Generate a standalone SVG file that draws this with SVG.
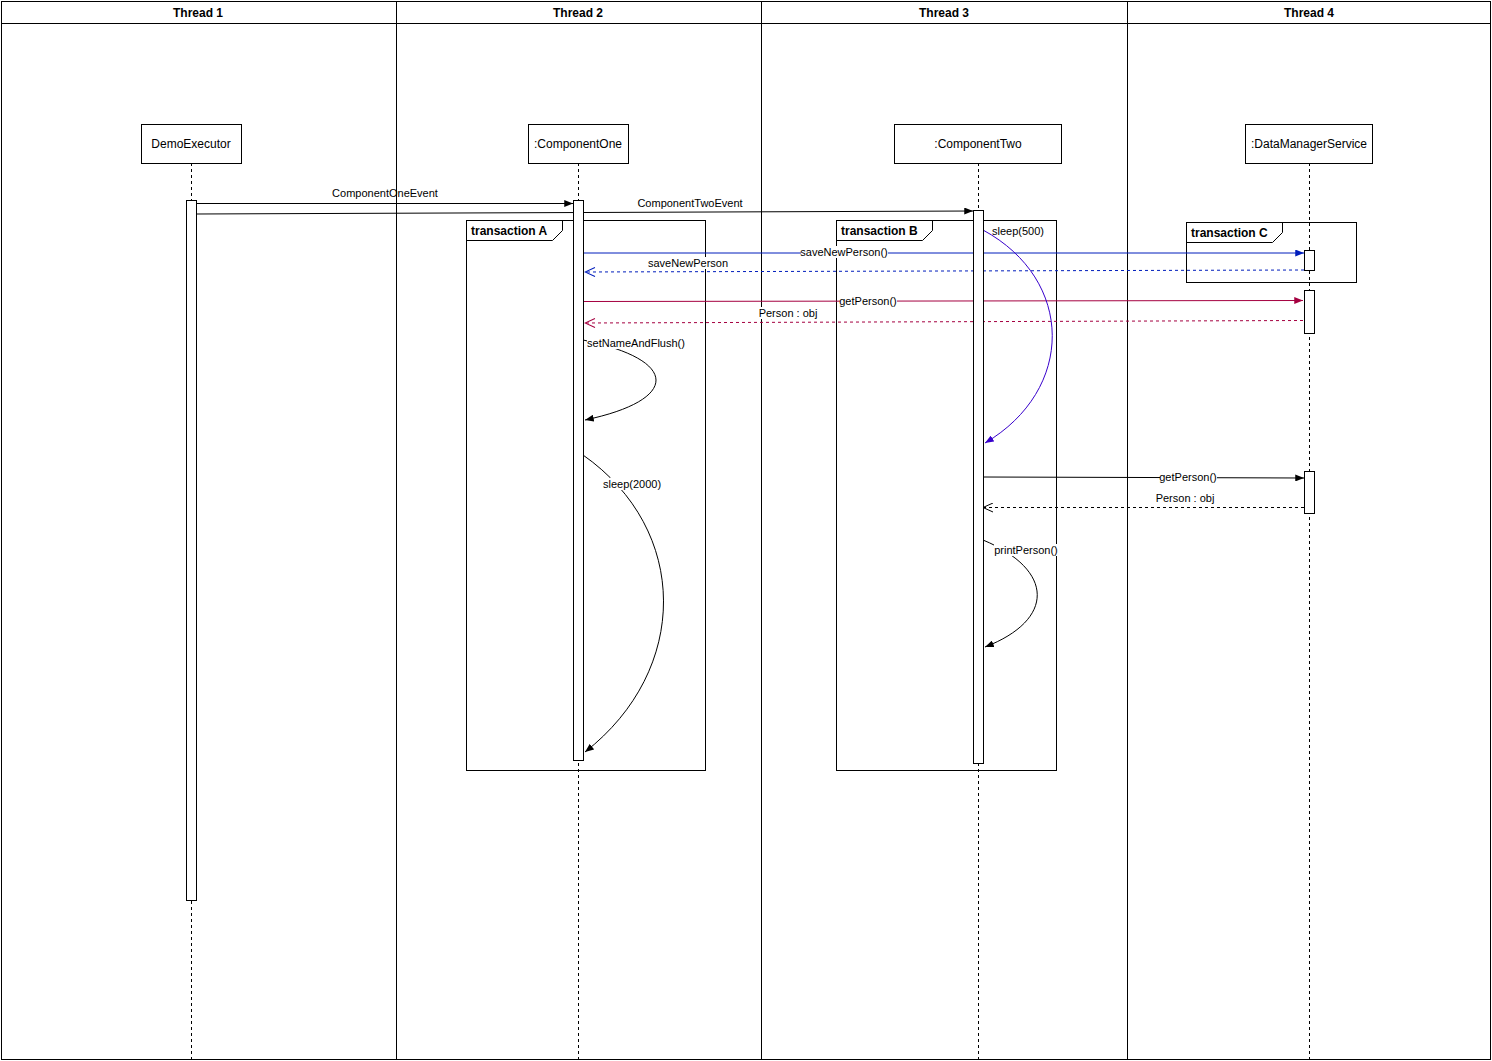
<svg xmlns="http://www.w3.org/2000/svg" width="1492" height="1061" viewBox="0 0 1492 1061">
<style>
text{font-family:"Liberation Sans",Arial,sans-serif;fill:#000}
.hdr{font-size:12px;font-weight:bold;text-anchor:middle}
.nm{font-size:12px;text-anchor:middle}
.lbl{font-size:11px;text-anchor:middle}
.fr{font-size:12px;font-weight:bold}
.ln{stroke:#000;stroke-width:1;fill:none}
.box{fill:#fff;stroke:#000;stroke-width:1}
.life{stroke:#000;stroke-width:1;stroke-dasharray:3 3;fill:none}
.act{fill:#fff;stroke:#000;stroke-width:1}
.frame{fill:none;stroke:#000;stroke-width:1}
.msg{fill:none;stroke-width:1}
.ret{fill:none;stroke-width:1;stroke-dasharray:3 3}
.bg{fill:#fff}
</style>
<defs>
<marker id="fBlack" viewBox="0 0 10 8" refX="10" refY="4" markerWidth="9" markerHeight="7" markerUnits="userSpaceOnUse" orient="auto"><path d="M0,0 L10,4 L0,8 z" fill="#000"/></marker>
<marker id="fBlue" viewBox="0 0 10 8" refX="10" refY="4" markerWidth="9" markerHeight="7" markerUnits="userSpaceOnUse" orient="auto"><path d="M0,0 L10,4 L0,8 z" fill="#001DBC"/></marker>
<marker id="fRed" viewBox="0 0 10 8" refX="10" refY="4" markerWidth="9" markerHeight="7" markerUnits="userSpaceOnUse" orient="auto"><path d="M0,0 L10,4 L0,8 z" fill="#A50040"/></marker>
<marker id="fPurple" viewBox="0 0 10 8" refX="10" refY="4" markerWidth="9" markerHeight="7" markerUnits="userSpaceOnUse" orient="auto"><path d="M0,0 L10,4 L0,8 z" fill="#3700CC"/></marker>
<marker id="oBlack" viewBox="0 0 12 10" refX="11" refY="5" markerWidth="12" markerHeight="10" markerUnits="userSpaceOnUse" orient="auto"><path d="M1,0.5 L11,5 L1,9.5" fill="none" stroke="#000" stroke-width="1"/></marker>
<marker id="oBlue" viewBox="0 0 12 10" refX="11" refY="5" markerWidth="12" markerHeight="10" markerUnits="userSpaceOnUse" orient="auto"><path d="M1,0.5 L11,5 L1,9.5" fill="none" stroke="#001DBC" stroke-width="1"/></marker>
<marker id="oRed" viewBox="0 0 12 10" refX="11" refY="5" markerWidth="12" markerHeight="10" markerUnits="userSpaceOnUse" orient="auto"><path d="M1,0.5 L11,5 L1,9.5" fill="none" stroke="#A50040" stroke-width="1"/></marker>
</defs>
<rect x="0" y="0" width="1492" height="1061" fill="#fff"/>

<g id="pool">
<rect x="1.5" y="1.5" width="1489" height="1058" class="ln"/>
<line x1="1.5" y1="23.5" x2="1490.5" y2="23.5" class="ln"/>
<line x1="396.5" y1="1.5" x2="396.5" y2="1059.5" class="ln"/>
<line x1="761.5" y1="1.5" x2="761.5" y2="1059.5" class="ln" stroke-width="1.5"/>
<line x1="1127.5" y1="1.5" x2="1127.5" y2="1059.5" class="ln"/>
<text class="hdr" x="198" y="17">Thread 1</text>
<text class="hdr" x="578" y="17">Thread 2</text>
<text class="hdr" x="944" y="17">Thread 3</text>
<text class="hdr" x="1309" y="17">Thread 4</text>
</g>

<g id="transactionA">
<rect x="466.5" y="220.5" width="239" height="550" class="frame"/>
<path d="M466.5,240.5 H552.5 L562.5,230.5 V220.5" class="frame"/>
<text class="fr" x="471" y="235">transaction A</text>
</g>
<g id="transactionB">
<rect x="836.5" y="220.5" width="220" height="550" class="frame"/>
<path d="M836.5,240.5 H922.5 L932.5,230.5 V220.5" class="frame"/>
<text class="fr" x="841" y="235">transaction B</text>
</g>
<g id="transactionC">
<rect x="1186.5" y="222.5" width="170" height="60" class="frame"/>
<path d="M1186.5,242.5 H1272.5 L1282.5,232.5 V222.5" class="frame"/>
<text class="fr" x="1191" y="237">transaction C</text>
</g>

<g id="connectors">
<line x1="196" y1="203.5" x2="573" y2="203.5" class="msg" stroke="#000" marker-end="url(#fBlack)"/>
<text class="lbl" x="385" y="197">ComponentOneEvent</text>
<line x1="196" y1="214" x2="973" y2="211" class="msg" stroke="#000" marker-end="url(#fBlack)"/>
<text class="lbl" x="690" y="207">ComponentTwoEvent</text>

<line x1="583" y1="253" x2="1304" y2="253" class="msg" stroke="#001DBC" marker-end="url(#fBlue)"/>
<rect class="bg" x="801" y="246" width="87" height="12"/>
<text class="lbl" x="844" y="256">saveNewPerson()</text>
<line x1="1304" y1="270" x2="585" y2="272" class="ret" stroke="#001DBC" marker-end="url(#oBlue)"/>
<rect class="bg" x="647" y="257" width="82" height="12"/>
<text class="lbl" x="688" y="267">saveNewPerson</text>

<line x1="583" y1="301.5" x2="1303" y2="300.5" class="msg" stroke="#A50040" marker-end="url(#fRed)"/>
<rect class="bg" x="840" y="295" width="57" height="12"/>
<text class="lbl" x="868" y="305">getPerson()</text>
<line x1="1303" y1="320.5" x2="585" y2="323" class="ret" stroke="#A50040" marker-end="url(#oRed)"/>
<rect class="bg" x="759" y="307" width="59" height="12"/>
<text class="lbl" x="788" y="317">Person : obj</text>

<path d="M583,340 C680,360 680,400 585,420" class="msg" stroke="#000" marker-end="url(#fBlack)"/>
<rect class="bg" x="587" y="337" width="98" height="12"/>
<text class="lbl" x="636" y="347">setNameAndFlush()</text>

<path d="M583,455 C690,530 690,670 585,752" class="msg" stroke="#000" marker-end="url(#fBlack)"/>
<rect class="bg" x="603" y="478" width="59" height="12"/>
<text class="lbl" x="632" y="488">sleep(2000)</text>

<path d="M983,230 C1075,280 1075,390 985,443" class="msg" stroke="#3700CC" marker-end="url(#fPurple)"/>
<text class="lbl" x="1018" y="235">sleep(500)</text>

<line x1="983" y1="477" x2="1304" y2="478" class="msg" stroke="#000" marker-end="url(#fBlack)"/>
<rect class="bg" x="1160" y="471" width="57" height="12"/>
<text class="lbl" x="1188" y="481">getPerson()</text>
<line x1="1304" y1="507.5" x2="983" y2="507.5" class="ret" stroke="#000" marker-end="url(#oBlack)"/>
<text class="lbl" x="1185" y="502">Person : obj</text>

<path d="M983,540 C1055,570 1055,620 985,647" class="msg" stroke="#000" marker-end="url(#fBlack)"/>
<rect class="bg" x="994" y="544" width="64" height="12"/>
<text class="lbl" x="1026" y="554">printPerson()</text>
</g>

<g id="DemoExecutor">
<line x1="191.5" y1="163" x2="191.5" y2="1060" class="life"/>
<rect x="141.5" y="124.5" width="100" height="39" class="box"/>
<text class="nm" x="191" y="148">DemoExecutor</text>
<rect x="186.5" y="200.5" width="10" height="700" class="act"/>
</g>

<g id="ComponentOne">
<line x1="578.5" y1="163" x2="578.5" y2="1060" class="life"/>
<rect x="528.5" y="124.5" width="100" height="39" class="box"/>
<text class="nm" x="578" y="148">:ComponentOne</text>
<rect x="573.5" y="200.5" width="10" height="560" class="act"/>
</g>

<g id="ComponentTwo">
<line x1="978.5" y1="163" x2="978.5" y2="1060" class="life"/>
<rect x="894.5" y="124.5" width="167" height="39" class="box"/>
<text class="nm" x="978" y="148">:ComponentTwo</text>
<rect x="973.5" y="210.5" width="10" height="553" class="act"/>
</g>

<g id="DataManagerService">
<line x1="1309.5" y1="163" x2="1309.5" y2="1060" class="life"/>
<rect x="1245.5" y="124.5" width="127" height="39" class="box"/>
<text class="nm" x="1309" y="148">:DataManagerService</text>
<rect x="1304.5" y="250.5" width="10" height="20" class="act"/>
<rect x="1304.5" y="290.5" width="10" height="43" class="act"/>
<rect x="1304.5" y="471.5" width="10" height="42" class="act"/>
</g>
</svg>
